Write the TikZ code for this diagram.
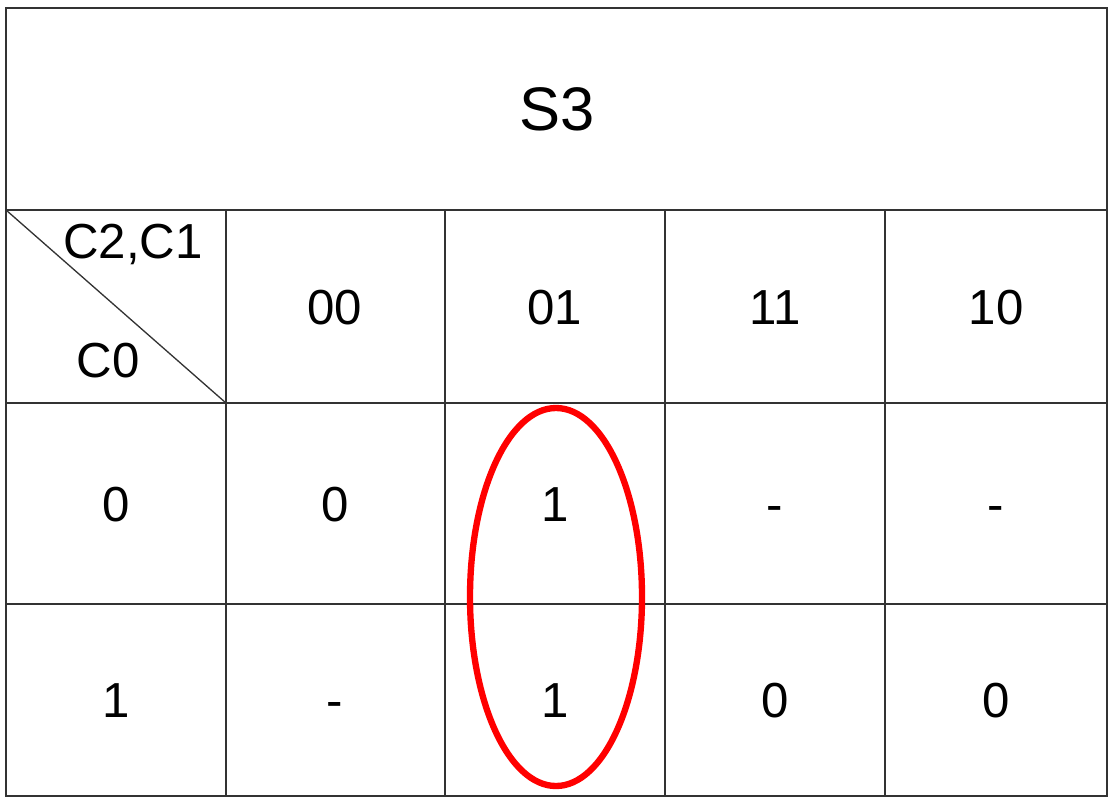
\documentclass[tikz,border=0pt]{standalone}
\usepackage{fontspec}
\setmainfont{Liberation Sans}
\begin{document}
\begin{tikzpicture}[x=0.02cm, y=-0.02cm,
	cell/.style={font=\fontsize{28}{34}\selectfont, inner sep=0pt, anchor=base},
	grid/.style={draw=black!80, line width=0.75pt}]
	\useasboundingbox (0,0) rectangle (1116,802);
	% 外框与标题行
	\draw[grid] (6,8) rectangle (1107,796);
	\foreach \y in {210,403,604}
		\draw[grid] (6,\y) -- (1107,\y);
	\foreach \x in {226,445,665,885}
		\draw[grid] (\x,210) -- (\x,796);
	% 左上角斜线
	\draw[grid] (6,210) -- (226,403);

	\node[cell, font=\fontsize{35}{42}\selectfont] (title) at (557,130) {S3};
	\node[cell] (cols) at (133,258) {C2,C1};
	\node[cell] (rows) at (108,377) {C0};

	% 列标题 C2,C1
	\foreach \x/\v [count=\j] in {335/00,555/01,775/11,996/10}
		\node[cell] (h\j) at (\x,324) {\v};
	% 行标题 C0
	\foreach \y/\v in {521/0,717/1}
		\node[cell] (r\v) at (116,\y) {\v};

	% 卡诺图取值
	\foreach \x/\a/\b [count=\j] in {335/0/-,555/1/1,775/-/0,996/-/0} {
		\node[cell] (c0\j) at (\x,521) {\a};
		\node[cell] (c1\j) at (\x,717) {\b};
	}

	% 圈出的 1
	\draw[red, line width=3.6pt] (556,597) ellipse [x radius=86, y radius=189];
\end{tikzpicture}
\end{document}
